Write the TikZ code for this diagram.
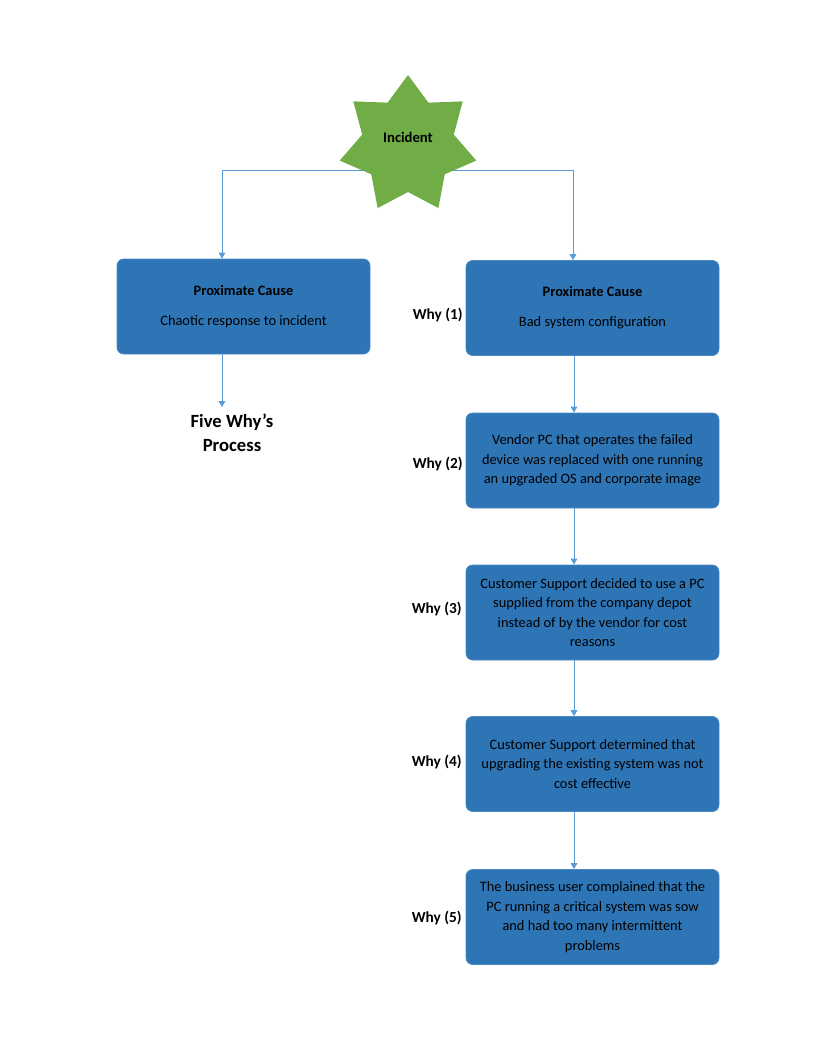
\documentclass[tikz,border=0pt]{standalone}
\usepackage{fontspec}
\setmainfont{Carlito}
\usetikzlibrary{shapes.geometric,arrows.meta}
\definecolor{boxblue}{HTML}{2E75B6}
\definecolor{boxedge}{HTML}{4A88C4}
\definecolor{linkblue}{HTML}{5B9BD5}
\definecolor{stargreen}{HTML}{70AD47}
\tikzset{
  causebox/.style={rectangle, rounded corners=5pt, fill=boxblue, draw=boxedge, line width=0.6pt,
    minimum width=189.75pt, minimum height=71.25pt, align=center,
    font=\fontsize{10.8}{14.6}\selectfont, text=black},
  whylabel/.style={anchor=east, font=\bfseries\fontsize{11.5}{13}\selectfont, inner sep=0pt},
  link/.style={draw=linkblue, line width=0.75pt},
  arr/.style={link, -{Triangle[width=5pt,length=4.5pt]}},
}
\begin{document}
\begin{tikzpicture}[x=0.75pt,y=-0.75pt]
\useasboundingbox (0,0) rectangle (816,1056);

% junction coordinates
\coordinate (jl) at (222,170);
\coordinate (jr) at (573,170);
\coordinate (ax) at (574,0);
\coordinate (fe) at (222,407);

% boxes
\node[causebox] (pc1) at (243.5,306.5) {\textbf{Proximate Cause}\\[8pt]Chaotic response to incident};
\node[causebox] (b1) at (592.5,308) {\textbf{Proximate Cause}\\[8pt]Bad system configuration};
\node[causebox] (b2) at (592.5,460.5) {Vendor PC that operates the failed\\device was replaced with one running\\an upgraded OS and corporate image};
\node[causebox] (b3) at (592.5,612.5) {Customer Support decided to use a PC\\supplied from the company depot\\instead of by the vendor for cost\\reasons};
\node[causebox] (b4) at (592.5,764) {Customer Support determined that\\upgrading the existing system was not\\cost effective};
\node[causebox] (b5) at (592.5,917) {The business user complained that the\\PC running a critical system was sow\\and had too many intermittent\\problems};

% connectors from incident
\draw[link] (jl) -- (jr);
\draw[arr] (jl) -- (jl |- pc1.north);
\draw[arr] (jr) -- (jr |- b1.north);

% star
\node[star, star points=7, star point ratio=1.49, minimum size=105pt, inner sep=0pt, fill=stargreen] (inc) at (408,145) {};
\node[font=\bfseries\fontsize{11}{13}\selectfont, inner sep=0pt] (inct) at (408,137) {Incident};

% left branch
\draw[arr] (pc1.south -| jl) -- (fe);
\node[align=center, font=\bfseries\fontsize{14}{18}\selectfont, inner sep=0pt] (five) at (232,433) {Five Why’s\\Process};

% right chain
\draw[arr] (b1.south -| ax) -- (b2.north -| ax);
\draw[arr] (b2.south -| ax) -- (b3.north -| ax);
\draw[arr] (b3.south -| ax) -- (b4.north -| ax);
\draw[arr] (b4.south -| ax) -- (b5.north -| ax);

% why labels
\node[whylabel] (w1) at (463,315) {Why (1)};
\node[whylabel] (w2) at (463,464) {Why (2)};
\node[whylabel] (w3) at (462,609) {Why (3)};
\node[whylabel] (w4) at (462,762) {Why (4)};
\node[whylabel] (w5) at (462,918) {Why (5)};
\end{tikzpicture}
\end{document}
